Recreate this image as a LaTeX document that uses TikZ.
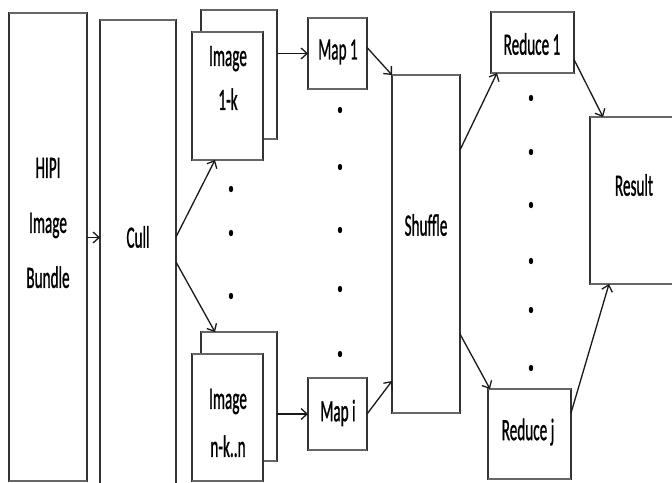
\documentclass[tikz,border=0pt]{standalone}
\usepackage{fontspec}
\setmainfont{Carlito}
\newfontfamily\lblfont{Carlito}[RawFeature={embolden=1.3}]
\usetikzlibrary{arrows.meta}
% narrow lettering used in every label
\newcommand\sq[1]{\scalebox{0.49}[1]{#1}}
% a box with heavier top and bottom edges
\newcommand\stagebox[5]{%
  \node[box, minimum width=#4, minimum height=#5] (#1) at (#2,#3) {};
  \draw[hedge] (#1.north west) -- (#1.north east);
  \draw[hedge] (#1.south west) -- (#1.south east);
}
\tikzset{
  box/.style={draw=black!80, line width=1.1pt, fill=white, inner sep=0pt, outer sep=0pt, anchor=north west},
  hedge/.style={draw=black!60, line width=2.4pt},
  lbl/.style={font=\lblfont\fontsize{31}{44}\selectfont, inner sep=0pt, align=center},
  flow/.style={draw=black!90, line width=1.3pt, -{Straight Barb[length=6pt,width=11pt]}},
  dotmark/.style={fill=black}
}
\begin{document}
\begin{tikzpicture}[x=1pt, y=-1pt]
\useasboundingbox (0,0) rectangle (672,482);
\clip (0,0) rectangle (672,482);

% stages
\stagebox{hipi}{9}{13}{78}{468}
\stagebox{cull}{100}{20}{76}{470}
\stagebox{imgAback}{201}{10}{76}{129}
\stagebox{imgA}{192}{32}{71}{128}
\stagebox{imgBback}{201}{332}{76}{129}
\stagebox{imgB}{192}{354}{71}{127}
\stagebox{mapA}{308}{18}{59}{71}
\stagebox{mapB}{308}{378}{59}{72}
\stagebox{shuffle}{392}{75}{68}{338}
\stagebox{redA}{491}{12}{83}{61}
\stagebox{redB}{488}{389}{83}{90}
\stagebox{result}{590}{117}{100}{167}

% labels
\node[lbl, font=\lblfont\fontsize{31}{55}\selectfont] (hipiT) at (48,223) {\sq{HIPI}\\\sq{Image}\\\sq{Bundle}};
\node[lbl] (cullT) at (138,237) {\sq{Cull}};
\node[lbl] (imgAT) at (228,78) {\sq{Image}\\\sq{1-k}};
\node[lbl, font=\lblfont\fontsize{31}{48}\selectfont] (imgBT) at (228,423) {\sq{Image}\\\sq{n-k..n}};
\node[lbl] (mapAT) at (338,52) {\sq{Map 1}};
\node[lbl] (mapBT) at (338,413) {\sq{Map i}};
\node[lbl] (shuffleT) at (426,225) {\sq{Shuffle}};
\node[lbl] (redAT) at (532,44) {\sq{Reduce 1}};
\node[lbl] (redBT) at (528,432) {\sq{Reduce j}};
\node[lbl] (resultT) at (634,185) {\sq{Result}};

% connectors
\draw[flow] ([yshift=9.5pt]hipi.east) -- ([yshift=9.5pt]hipi.east -| cull.west);
\draw[flow] ([yshift=18pt]cull.east) -- ([xshift=-12.5pt]imgA.south);
\draw[flow] ([yshift=-7pt]cull.east) -- ([xshift=-24pt]imgBback.north);
\draw[flow] (mapA.west -| imgAback.east) -- (mapA.west);
\draw[flow] (mapB.west -| imgBback.east) -- (mapB.west);
\draw[flow] ([yshift=6pt]mapA.east) -- (shuffle.north west);
\draw[flow] (mapB.east) -- ([yshift=32pt]shuffle.south west);
\draw[flow] ([yshift=-75pt]shuffle.north east) -- ([xshift=6pt]redA.south west);
\draw[flow] ([yshift=79pt]shuffle.south east) -- ([xshift=2pt]redB.north west);
\draw[flow] ([yshift=-17pt]redA.east) -- ([xshift=13pt]result.north west);
\draw[flow] ([yshift=21pt]redB.east) -- ([xshift=19pt]result.south west);

% ellipsis dots
\foreach \y in {189,233,296}
  \fill[dotmark] (231,\y) ellipse [x radius=2.2pt, y radius=3.2pt];
\foreach \y in {110,167,230,289,354}
  \fill[dotmark] (340,\y) ellipse [x radius=2.2pt, y radius=3.2pt];
\foreach \y in {98,152,205,261,310,368}
  \fill[dotmark] (531,\y) ellipse [x radius=2.2pt, y radius=3.2pt];
\end{tikzpicture}
\end{document}
